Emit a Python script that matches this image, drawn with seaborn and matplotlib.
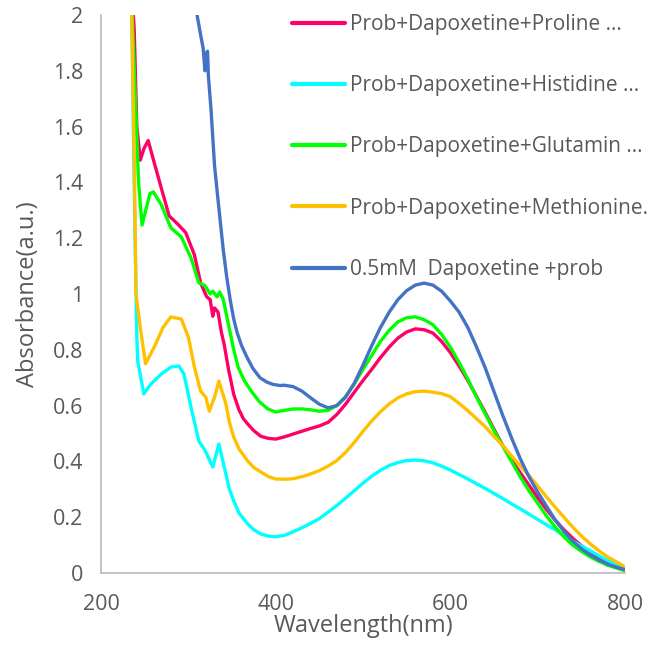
import numpy as np
import pandas as pd
import matplotlib
matplotlib.use("Agg")
import matplotlib.pyplot as plt
import seaborn as sns

# UV-Vis absorbance spectra (wavelength in nm, absorbance in a.u.)
series_names = [
    "Prob+Dapoxetine+Proline ...",
    "Prob+Dapoxetine+Histidine ...",
    "Prob+Dapoxetine+Glutamin ...",
    "Prob+Dapoxetine+Methionine.",
    "0.5mM  Dapoxetine +prob",
]
series_colors = ["#FF0066", "#00FFFF", "#00FF00", "#FFC000", "#4472C4"]

wl_proline = [236, 238, 241, 245, 249, 254, 261, 269, 278, 288, 297, 307, 314, 321, 325, 328,
              330, 334, 338, 341, 346, 352, 358, 363, 368, 375, 383, 391,
              400, 410, 420, 430, 440, 450, 460, 470, 480, 490, 500, 510, 520, 530, 540, 550,
              560, 570, 580, 590, 600, 610, 620, 630, 640, 650, 660, 670, 680, 690, 700, 710,
              720, 730, 740, 750, 760, 770, 780, 790, 800]
abs_proline = [2.05, 1.95, 1.60, 1.48, 1.52, 1.55, 1.47, 1.38, 1.28, 1.25, 1.22, 1.14, 1.04, 0.99,
               0.98, 0.92, 0.95, 0.935, 0.86, 0.82, 0.73, 0.64, 0.585, 0.553, 0.534, 0.51, 0.49,
               0.483,
               0.48, 0.488, 0.498, 0.508, 0.518, 0.527, 0.54, 0.568, 0.605, 0.648, 0.69, 0.73,
               0.772, 0.81, 0.842, 0.864, 0.875, 0.872, 0.86, 0.83, 0.79, 0.742, 0.69, 0.633,
               0.575, 0.515, 0.457, 0.405, 0.36, 0.315, 0.27, 0.228, 0.19, 0.155, 0.125, 0.098,
               0.075, 0.055, 0.038, 0.024, 0.012]

wl_histidine = [235, 238, 241, 242, 249, 257, 269, 280, 289, 295, 303, 312, 319, 328, 335, 343,
                347, 352, 358, 368, 375, 383, 392,
                400, 410, 420, 430, 440, 450, 460, 470, 480, 490, 500, 510, 520, 530, 540, 550,
                560, 570, 580, 590, 600, 610, 620, 630, 640, 650, 660, 670, 680, 690, 700, 710,
                720, 730, 740, 750, 760, 770, 780, 790, 800]
abs_histidine = [2.05, 1.40, 0.85, 0.76, 0.642, 0.677, 0.713, 0.738, 0.742, 0.713, 0.595, 0.473,
                 0.44, 0.38, 0.462, 0.355, 0.30, 0.258, 0.215, 0.176, 0.155, 0.14, 0.132,
                 0.13, 0.135, 0.148, 0.162, 0.178, 0.195, 0.218, 0.242, 0.268, 0.295, 0.322,
                 0.347, 0.368, 0.385, 0.396, 0.403, 0.405, 0.402, 0.395, 0.383, 0.369, 0.353,
                 0.337, 0.32, 0.303, 0.285, 0.267, 0.248, 0.23, 0.211, 0.192, 0.173, 0.155,
                 0.135, 0.115, 0.097, 0.08, 0.062, 0.045, 0.03, 0.015]

wl_glutamine = [235, 237, 243, 247, 252, 256, 260, 269, 280, 292, 303, 312, 319, 325, 328, 333,
                336, 340, 344, 348, 352, 357, 364, 372, 381, 391,
                400, 410, 420, 430, 440, 450, 460, 470, 480, 490, 500, 510, 520, 530, 540, 550,
                560, 570, 580, 590, 600, 610, 620, 630, 640, 650, 660, 670, 680, 690, 700, 710,
                720, 730, 740, 750, 760, 770, 780, 790, 800]
abs_glutamine = [2.05, 1.90, 1.40, 1.247, 1.31, 1.36, 1.366, 1.32, 1.237, 1.204, 1.13, 1.04, 1.03,
                 1.0, 1.01, 0.99, 1.007, 0.98, 0.92, 0.86, 0.80, 0.738, 0.69, 0.652, 0.615, 0.588,
                 0.577, 0.583, 0.588, 0.588, 0.585, 0.58, 0.583, 0.60, 0.632, 0.677, 0.73, 0.78,
                 0.83, 0.87, 0.90, 0.915, 0.918, 0.908, 0.89, 0.855, 0.81, 0.755, 0.695, 0.63,
                 0.57, 0.51, 0.455, 0.40, 0.345, 0.295, 0.25, 0.205, 0.165, 0.13, 0.10, 0.078,
                 0.058, 0.042, 0.028, 0.018, 0.008]

wl_methionine = [235, 238, 240, 246, 251, 261, 271, 280, 292, 300, 307, 314, 320, 324, 330, 335,
                 343, 347, 352, 358, 368, 375, 383, 392,
                 400, 410, 420, 430, 440, 450, 460, 470, 480, 490, 500, 510, 520, 530, 540, 550,
                 560, 570, 580, 590, 600, 610, 620, 630, 640, 650, 660, 670, 680, 690, 700, 710,
                 720, 730, 740, 750, 760, 770, 780, 790, 800]
abs_methionine = [2.05, 1.50, 1.0, 0.857, 0.75, 0.81, 0.88, 0.918, 0.91, 0.846, 0.738, 0.652,
                  0.63, 0.58, 0.63, 0.688, 0.606, 0.54, 0.487, 0.445, 0.401, 0.378, 0.362, 0.345,
                  0.337, 0.336, 0.338, 0.345, 0.355, 0.367, 0.383, 0.403, 0.432, 0.468, 0.508,
                  0.545, 0.578, 0.606, 0.628, 0.642, 0.65, 0.652, 0.648, 0.643, 0.632, 0.608,
                  0.582, 0.553, 0.524, 0.49, 0.457, 0.42, 0.385, 0.35, 0.312, 0.273, 0.236, 0.20,
                  0.165, 0.133, 0.105, 0.08, 0.058, 0.04, 0.022]

wl_dapoxetine = [306, 310, 314, 317, 319, 320, 322, 323, 326, 330, 334, 340, 344, 348, 352, 356,
                 361, 367, 374, 382, 390, 397,
                 405, 410, 420, 430, 440, 450, 460, 470, 480, 490, 500, 510, 520, 530, 540, 550,
                 560, 570, 580, 590, 600, 610, 620, 630, 640, 650, 660, 670, 680, 690, 700, 710,
                 720, 730, 740, 750, 760, 770, 780, 790, 800]
abs_dapoxetine = [2.2, 2.0, 1.93, 1.88, 1.80, 1.86, 1.87, 1.78, 1.66, 1.46, 1.337, 1.158, 1.06,
                  0.978, 0.91, 0.86, 0.815, 0.774, 0.733, 0.70, 0.684, 0.676,
                  0.672, 0.673, 0.668, 0.652, 0.628, 0.605, 0.592, 0.60, 0.63, 0.68, 0.745,
                  0.815, 0.88, 0.935, 0.98, 1.012, 1.032, 1.039, 1.032, 1.01, 0.975, 0.935, 0.88,
                  0.81, 0.735, 0.65, 0.565, 0.485, 0.41, 0.345, 0.29, 0.24, 0.19, 0.15, 0.115,
                  0.087, 0.065, 0.047, 0.032, 0.021, 0.012]

x_ticks = [200, 400, 600, 800]
y_ticks = [0, 0.2, 0.4, 0.6, 0.8, 1, 1.2, 1.4, 1.6, 1.8, 2]
y_tick_labels = ["0", "0.2", "0.4", "0.6", "0.8", "1", "1.2", "1.4", "1.6", "1.8", "2"]

frames = []
for name, wl, ab in zip(series_names,
                        [wl_proline, wl_histidine, wl_glutamine, wl_methionine, wl_dapoxetine],
                        [abs_proline, abs_histidine, abs_glutamine, abs_methionine, abs_dapoxetine]):
    frames.append(pd.DataFrame({"Wavelength": wl, "Absorbance": ab, "Sample": name}))
df = pd.concat(frames, ignore_index=True)

sns.set_theme(style="white")
plt.rcParams["font.family"] = ["Open Sans", "DejaVu Sans"]
text_color = "#595959"
spine_color = "#BFBFBF"

fig = plt.figure(figsize=(6.67, 6.46), dpi=100)
ax = fig.add_axes([101 / 667, 1 - 573 / 646, 524 / 667, 558 / 646])

sns.lineplot(data=df, x="Wavelength", y="Absorbance", hue="Sample", hue_order=series_names,
             palette=dict(zip(series_names, series_colors)), estimator=None, sort=False,
             linewidth=2.4, ax=ax)

ax.set_xlim(200, 800)
ax.set_ylim(0, 2)
ax.set_xticks(x_ticks)
ax.set_xticklabels([str(t) for t in x_ticks])
ax.set_yticks(y_ticks)
ax.set_yticklabels(y_tick_labels)
ax.tick_params(axis="both", length=0, labelsize=15.5, colors=text_color)
ax.tick_params(axis="x", pad=15)
ax.tick_params(axis="y", pad=13)

for side in ["top", "right"]:
    ax.spines[side].set_visible(False)
for side in ["left", "bottom"]:
    ax.spines[side].set_color(spine_color)
    ax.spines[side].set_linewidth(1.3)

ax.set_xlabel("Wavelength(nm)", fontsize=17, color=text_color)
ax.set_ylabel("Absorbance(a.u.)", fontsize=17, color=text_color)
ax.xaxis.set_label_coords(0.5, (573 - 614) / 558)
ax.yaxis.set_label_coords((40 - 101) / 524, 0.5)

handles, labels = ax.get_legend_handles_labels()
leg = ax.legend(handles, labels, loc="upper left", bbox_to_anchor=(292 / 667, 1 - 14 / 646),
                bbox_transform=fig.transFigure, frameon=False, fontsize=15,
                labelspacing=1.93, handlelength=2.55, handletextpad=0.24,
                borderpad=0, borderaxespad=0)
for t in leg.get_texts():
    t.set_color(text_color)
for h in leg.get_lines():
    h.set_linewidth(3)

fig.savefig("out.png", dpi=100)
